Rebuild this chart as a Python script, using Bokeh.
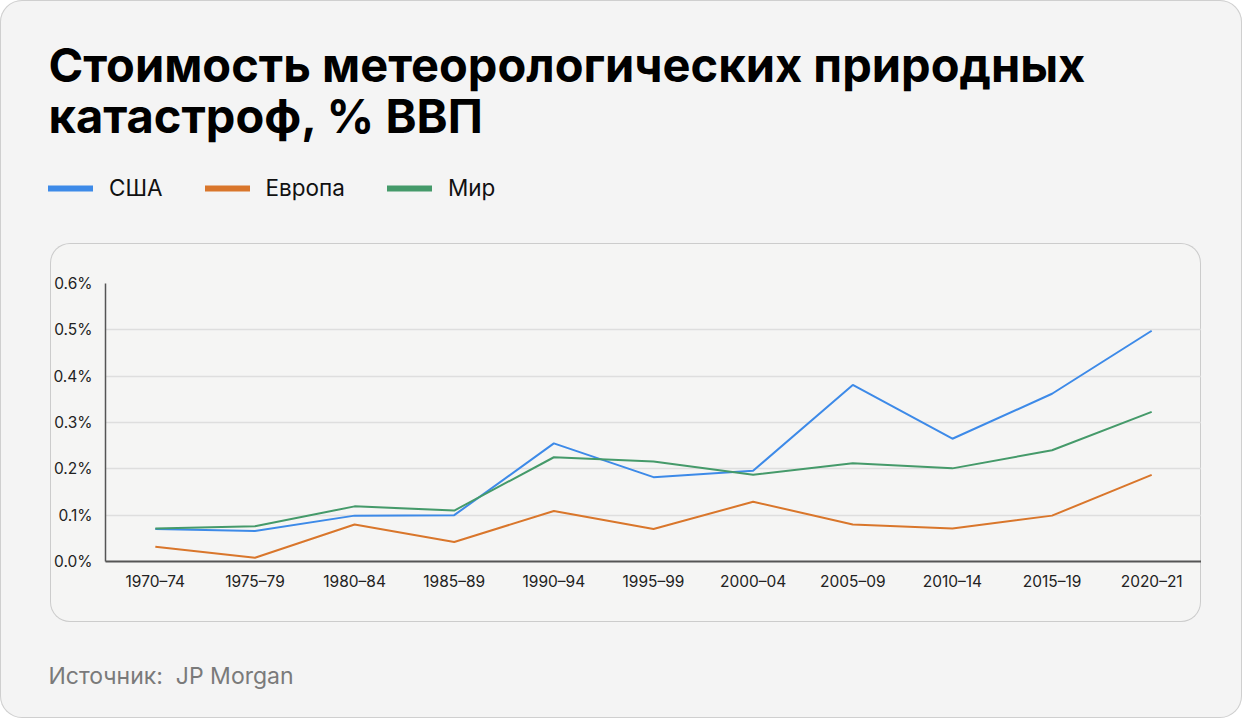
from bokeh.plotting import figure
from bokeh.layouts import column
from bokeh.models import (FactorRange, Range1d, FixedTicker, PrintfTickFormatter,
                          Legend, LegendItem, Label)
from bokeh.embed import file_html
from bokeh.resources import INLINE

periods = ["1970–74", "1975–79", "1980–84", "1985–89", "1990–94", "1995–99",
           "2000–04", "2005–09", "2010–14", "2015–19", "2020–21"]
usa = [0.070, 0.066, 0.099, 0.100, 0.255, 0.182, 0.196, 0.381, 0.265, 0.362, 0.498]
europe = [0.032, 0.008, 0.080, 0.042, 0.109, 0.070, 0.129, 0.080, 0.071, 0.099, 0.187]
world = [0.071, 0.076, 0.119, 0.110, 0.225, 0.216, 0.187, 0.212, 0.201, 0.240, 0.323]
y_ticks = [0.0, 0.1, 0.2, 0.3, 0.4, 0.5, 0.6]

series_names = ["США", "Европа", "Мир"]
colors = ["#3d8ae8", "#d9762b", "#459a6a"]
title_lines = ["Стоимость метеорологических природных", "катастроф, % ВВП"]
source_text = "Источник:\u00a0 JP Morgan"

FONT = "Inter"
W, H = 1242, 718
TOP_H, CARD_H, CARD_W = 243, 379, 1151
BOT_H = H - TOP_H - CARD_H


def blank(width, height):
    f = figure(title=None, frame_width=width, frame_height=height,
               x_range=Range1d(0, width), y_range=Range1d(height, 0),
               x_axis_type=None, y_axis_type=None, output_backend="svg", toolbar_location=None,
               min_border_left=0, min_border_right=0, min_border_top=0, min_border_bottom=0,
               frame_align=False)
    f.outline_line_color = None
    f.background_fill_alpha = 0
    f.border_fill_alpha = 0
    return f


# ---- header: title + legend ----
top = blank(W, TOP_H)
for text, yb in zip(title_lines, [64, 115]):
    top.add_layout(Label(x=48, y=yb, text=text, text_font=FONT, text_font_style="bold",
                         text_font_size="47px", text_color="#000000", text_baseline="alphabetic"))
leg_renderers = [top.line(x=[float("nan")], y=[float("nan")], line_color=c, line_width=6,
                          line_cap="round") for c in colors]
legend = Legend(items=[LegendItem(label=n, renderers=[r]) for n, r in zip(series_names, leg_renderers)],
                orientation="horizontal", location=(48, TOP_H - 201), padding=0, margin=0, spacing=42,
                glyph_width=45, glyph_height=24, label_height=24, label_standoff=16,
                label_text_font=FONT, label_text_font_size="22.5px", label_text_color="#111111",
                background_fill_alpha=0, border_line_color=None)
top.add_layout(legend, "center")

# ---- chart ----
p = figure(title=None, width=CARD_W, height=CARD_H, x_range=FactorRange(*periods, range_padding=0),
           y_range=Range1d(0, 0.6), output_backend="svg", toolbar_location=None,
           min_border_left=55, min_border_right=0, min_border_top=40, min_border_bottom=61,
           frame_align=False)
p.border_fill_alpha = 0
p.background_fill_alpha = 0
p.outline_line_color = None
for vals, c in zip([usa, europe, world], colors):
    p.line(periods, vals, line_color=c, line_width=2)

p.yaxis.ticker = FixedTicker(ticks=y_ticks)
p.yaxis.formatter = PrintfTickFormatter(format="%.1f%%")
for ax in (p.xaxis[0], p.yaxis[0]):
    ax.major_tick_line_color = None
    ax.minor_tick_line_color = None
    ax.major_label_text_font = FONT
    ax.major_label_text_font_size = "15.5px"
    ax.major_label_text_color = "#222222"
p.yaxis.axis_line_color = "#555555"
p.yaxis.axis_line_width = 1.5
p.yaxis.major_label_standoff = 7
p.xaxis.axis_line_color = "#555555"
p.xaxis.axis_line_width = 2
p.xaxis.major_label_standoff = 4
p.xgrid.grid_line_color = None
p.ygrid.grid_line_color = "#dedede"
p.ygrid.grid_line_width = 1.5
p.margin = (0, 0, 0, 50)
p.styles = {"border-radius": "20px", "background-color": "#f5f5f4",
            "box-shadow": "inset 0 0 0 1px #cccccc"}

# ---- footer ----
bot = blank(W, BOT_H)
bot.add_layout(Label(x=48, y=53, text=source_text, text_font=FONT, text_font_size="23px",
                     text_color="#7a7a7a", text_baseline="middle"))

root = column(top, p, bot, width=W, height=H, spacing=0)
root.styles = {"background-color": "#f4f4f4", "border-radius": "22px",
               "box-shadow": "inset 0 0 0 1px #cfcfcf"}

open("out.html", "w").write(file_html(root, INLINE))
